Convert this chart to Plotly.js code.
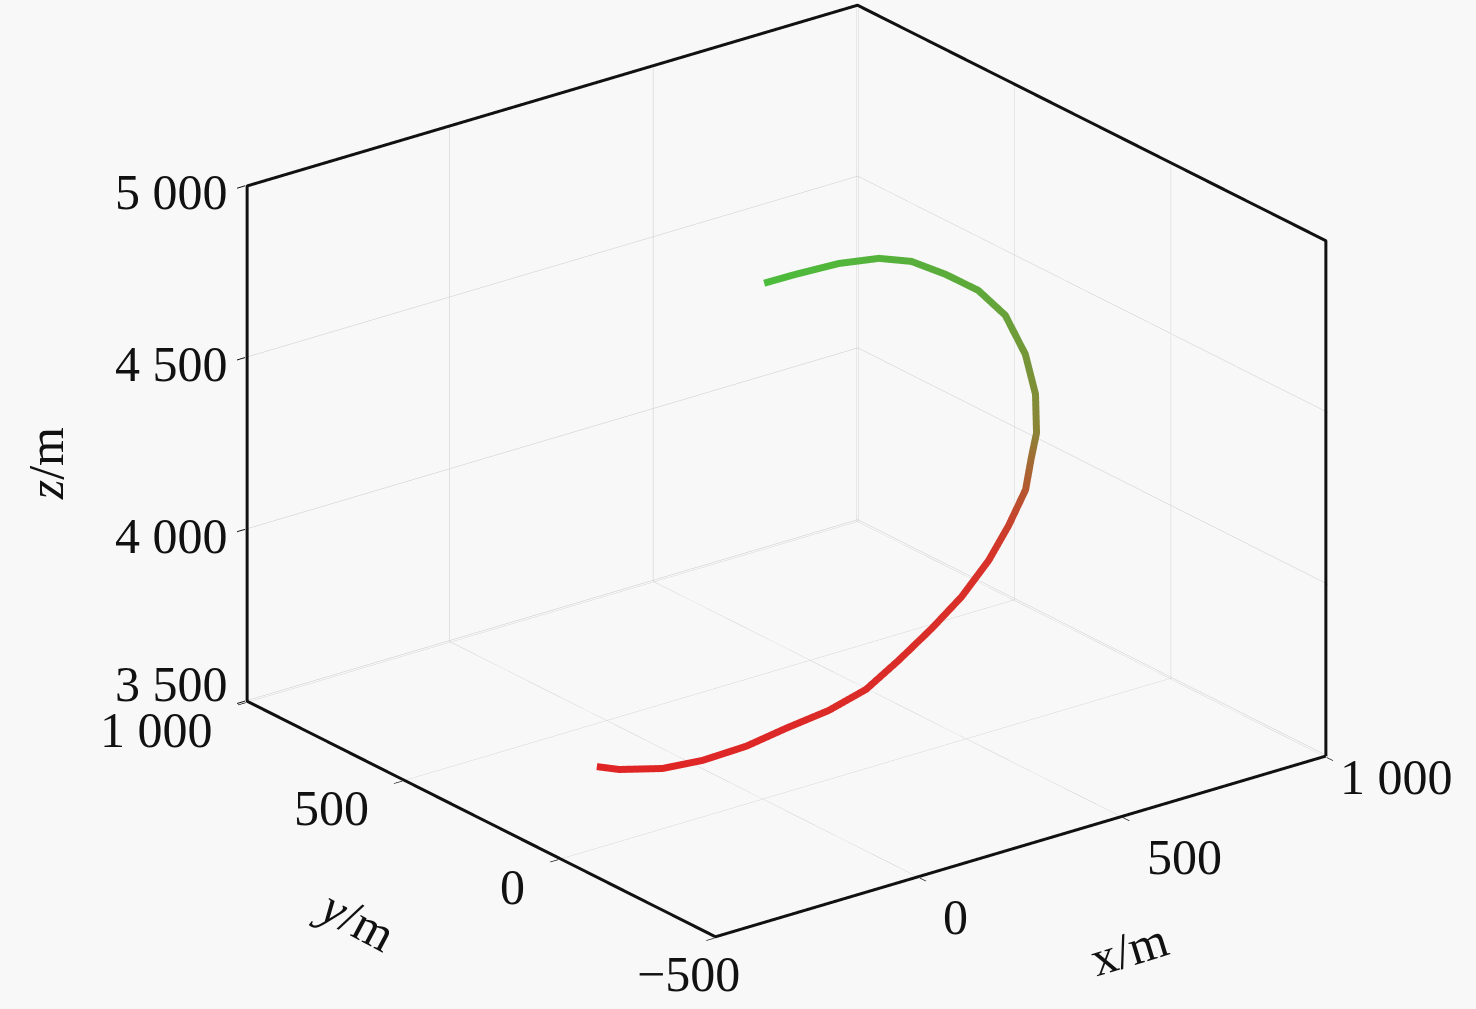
<!DOCTYPE html>
<html>
<head>
<meta charset="utf-8">
<script src="https://cdn.plot.ly/plotly-3.0.1.min.js"></script>
<style>html,body{margin:0;padding:0;background:#f8f8f8;}#chart{width:1476px;height:1009px;}</style>
</head>
<body>
<div id="chart"></div>
<script>
// Trajectory (start = green high end, end = red low end)
const xData = [212, 341, 494, 624, 718, 784, 838, 856, 820, 766, 701, 669, 615, 531, 446, 346, 255, 158, 71, 2, -66, -131, -189, -223, -240, -213];
const yData = [272, 339, 400, 442, 460, 436, 402, 339, 228, 125, 37, 12, -40, -95, -142, -186, -209, -229, -238, -209, -161, -117, -53, 31, 147, 254];
const zData = [4800, 4750, 4700, 4650, 4600, 4550, 4500, 4450, 4400, 4350, 4300, 4250, 4200, 4150, 4100, 4050, 4000, 3950, 3900, 3850, 3800, 3750, 3700, 3650, 3600, 3550];

const xRange = [-500, 1000];
const yRange = [-500, 1000];
const zRange = [3500, 5000];

const xTickVals = [0, 500, 1000];
const xTickText = ['0', '500', '1 000'];
const yTickVals = [-500, 0, 500, 1000];
const yTickText = ['\u2212500', '0', '500', '1 000'];
const zTickVals = [3500, 4000, 4500, 5000];
const zTickText = ['3 500', '4 000', '4 500', '5 000'];

const FONT = 'Liberation Serif, Times New Roman, serif';
const FS = 50;

function padded(range) {
  const p = (range[1] - range[0]) * 0.002;
  return [range[0] - p, range[1] + p];
}

function axis(range, vals) {
  return {
    range: padded(range), autorange: false,
    tickmode: 'array', tickvals: vals,
    showticklabels: false,
    title: {text: ''},
    showbackground: false,
    showgrid: true, gridcolor: '#c9c9c9', gridwidth: 1,
    showline: false,
    ticks: 'inside', ticklen: 10, tickcolor: '#111', tickwidth: 2,
    zeroline: false, showspikes: false
  };
}

const trace = {
  type: 'scatter3d', mode: 'lines',
  x: xData, y: yData, z: zData,
  line: {
    width: 14,
    color: zData,
    colorscale: [[0, '#e02424'], [0.45, '#d8302a'], [0.6, '#8c8436'], [0.75, '#5fa83a'], [1, '#4cbc3c']],
    cmin: 3550, cmax: 4800, showscale: false
  },
  hoverinfo: 'skip', showlegend: false
};

// Visible outline of the MATLAB-style box, built from the axis ranges
const X0 = xRange[0], X1 = xRange[1], Y0 = yRange[0], Y1 = yRange[1], Z0 = zRange[0], Z1 = zRange[1];
const boxTrace = {
  type: 'scatter3d', mode: 'lines',
  x: [X1, X0, X0, X0, X1, X1, X1],
  y: [Y0, Y0, Y1, Y1, Y1, Y0, Y0],
  z: [Z0, Z0, Z0, Z1, Z1, Z1, Z0],
  line: {width: 6, color: '#111'},
  hoverinfo: 'skip', showlegend: false
};

// Labels as scene annotations (horizontal serif text like the original)
const ann = [];
const txtFont = {family: FONT, size: FS, color: '#111'};
const itFont = {family: FONT, size: FS, color: '#111', style: 'italic'};
zTickVals.forEach(function (v, i) {
  const low = (v === zRange[0]);
  ann.push({x: X0, y: Y1, z: v, text: zTickText[i], showarrow: false,
    xanchor: 'right', yanchor: 'middle', xshift: -18, yshift: low ? 18 : -6, font: txtFont});
});
yTickVals.forEach(function (v, i) {
  const corner = (v === Y0);
  ann.push({x: X0, y: v, z: Z0, text: yTickText[i], showarrow: false,
    xanchor: 'right', yanchor: 'middle', xshift: corner ? 26 : -33, yshift: corner ? -37 : -28, font: txtFont});
});
xTickVals.forEach(function (v, i) {
  const corner = (v === X1);
  ann.push({x: v, y: Y0, z: Z0, text: xTickText[i], showarrow: false,
    xanchor: 'left', yanchor: 'middle', xshift: corner ? 12 : 22, yshift: corner ? -21 : -40, font: txtFont});
});
const midX = (X0 + X1) / 2, midY = (Y0 + Y1) / 2, midZ = (Z0 + Z1) / 2;
ann.push({x: X0, y: Y1, z: midZ, text: '<i>z</i>/m', showarrow: false, textangle: -90,
  xanchor: 'center', yanchor: 'middle', xshift: -202, yshift: -20, font: txtFont});
ann.push({x: X0, y: midY, z: Z0, text: '<i>y</i>/m', showarrow: false, textangle: 28,
  xanchor: 'center', yanchor: 'middle', xshift: -126, yshift: -100, font: txtFont});
ann.push({x: midX, y: Y0, z: Z0, text: 'x/m', showarrow: false, textangle: -17,
  xanchor: 'center', yanchor: 'middle', xshift: 108, yshift: -102, font: txtFont});

const el = 22.7 * Math.PI / 180, az = 37.5 * Math.PI / 180, r = 2;
const S = 1.64;
const layout = {
  width: 1476, height: 1009,
  paper_bgcolor: '#f8f8f8',
  margin: {l: 0, r: 0, t: 0, b: 0},
  showlegend: false,
  scene: {
    domain: {x: [0.066, 1], y: [0.066, 1]},
    bgcolor: '#f8f8f8',
    aspectmode: 'manual',
    aspectratio: {x: S, y: S, z: 0.726 * S},
    camera: {
      projection: {type: 'orthographic'},
      up: {x: 0, y: 0, z: 1},
      center: {x: 0, y: 0, z: 0},
      eye: {x: -r * Math.cos(el) * Math.sin(az), y: -r * Math.cos(el) * Math.cos(az), z: r * Math.sin(el)}
    },
    xaxis: axis(xRange, xTickVals),
    yaxis: axis(yRange, yTickVals),
    zaxis: axis(zRange, zTickVals),
    annotations: ann
  }
};

Plotly.newPlot('chart', [boxTrace, trace], layout, {displayModeBar: false});
</script>
</body>
</html>
